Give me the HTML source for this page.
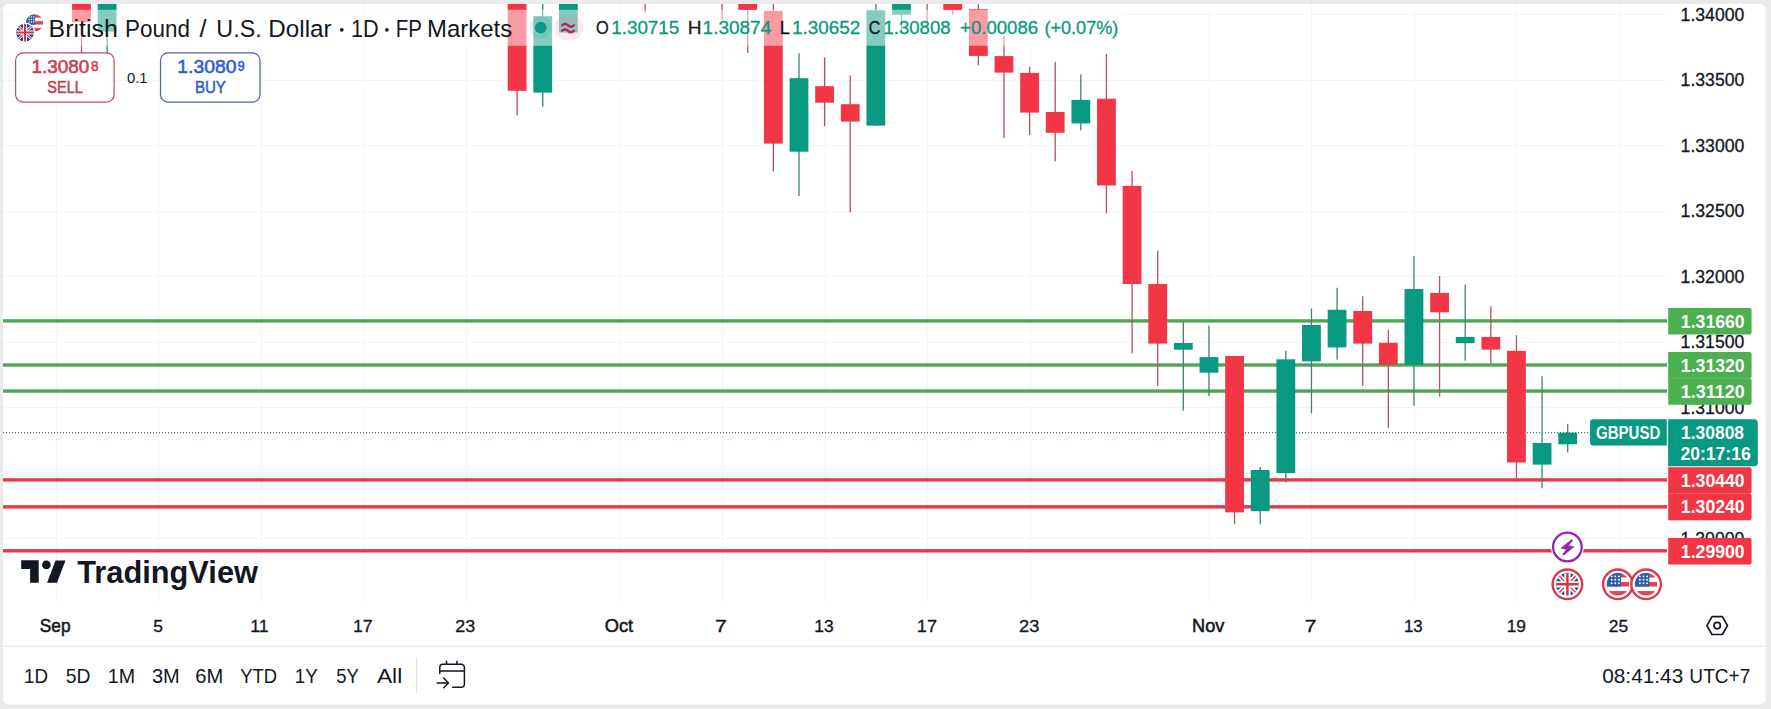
<!DOCTYPE html>
<html><head><meta charset="utf-8"><title>GBPUSD Chart</title>
<style>html,body{margin:0;padding:0;background:#eaeaea;}body{width:1771px;height:709px;overflow:hidden;font-family:"Liberation Sans",sans-serif;}svg{display:block;}</style>
</head><body>
<svg width="1771" height="709" viewBox="0 0 1771 709" font-family="Liberation Sans, sans-serif"><rect x="0" y="0" width="1771" height="709" fill="#eaeaea"/>
<rect x="3" y="4" width="1762.5" height="700.5" rx="5" fill="#ffffff"/>
<defs><clipPath id="pane"><rect x="3" y="4" width="1664" height="598"/></clipPath></defs>
<g clip-path="url(#pane)">
<line x1="56.5" y1="4" x2="56.5" y2="602" stroke="#f4f5f7" stroke-width="1"/>
<line x1="158.5" y1="4" x2="158.5" y2="602" stroke="#f4f5f7" stroke-width="1"/>
<line x1="261.5" y1="4" x2="261.5" y2="602" stroke="#f4f5f7" stroke-width="1"/>
<line x1="363.5" y1="4" x2="363.5" y2="602" stroke="#f4f5f7" stroke-width="1"/>
<line x1="466.5" y1="4" x2="466.5" y2="602" stroke="#f4f5f7" stroke-width="1"/>
<line x1="620.5" y1="4" x2="620.5" y2="602" stroke="#f4f5f7" stroke-width="1"/>
<line x1="722.5" y1="4" x2="722.5" y2="602" stroke="#f4f5f7" stroke-width="1"/>
<line x1="825.5" y1="4" x2="825.5" y2="602" stroke="#f4f5f7" stroke-width="1"/>
<line x1="927.5" y1="4" x2="927.5" y2="602" stroke="#f4f5f7" stroke-width="1"/>
<line x1="1030.5" y1="4" x2="1030.5" y2="602" stroke="#f4f5f7" stroke-width="1"/>
<line x1="1209.5" y1="4" x2="1209.5" y2="602" stroke="#f4f5f7" stroke-width="1"/>
<line x1="1311.5" y1="4" x2="1311.5" y2="602" stroke="#f4f5f7" stroke-width="1"/>
<line x1="1414.5" y1="4" x2="1414.5" y2="602" stroke="#f4f5f7" stroke-width="1"/>
<line x1="1516.5" y1="4" x2="1516.5" y2="602" stroke="#f4f5f7" stroke-width="1"/>
<line x1="1619.5" y1="4" x2="1619.5" y2="602" stroke="#f4f5f7" stroke-width="1"/>
<line x1="3" y1="14.5" x2="1667" y2="14.5" stroke="#f4f5f7" stroke-width="1"/>
<line x1="3" y1="80.5" x2="1667" y2="80.5" stroke="#f4f5f7" stroke-width="1"/>
<line x1="3" y1="145.5" x2="1667" y2="145.5" stroke="#f4f5f7" stroke-width="1"/>
<line x1="3" y1="211.5" x2="1667" y2="211.5" stroke="#f4f5f7" stroke-width="1"/>
<line x1="3" y1="276.5" x2="1667" y2="276.5" stroke="#f4f5f7" stroke-width="1"/>
<line x1="3" y1="342.5" x2="1667" y2="342.5" stroke="#f4f5f7" stroke-width="1"/>
<line x1="3" y1="407.5" x2="1667" y2="407.5" stroke="#f4f5f7" stroke-width="1"/>
<line x1="3" y1="473.5" x2="1667" y2="473.5" stroke="#f4f5f7" stroke-width="1"/>
<line x1="3" y1="538.5" x2="1667" y2="538.5" stroke="#f4f5f7" stroke-width="1"/>
<rect x="3" y="319.20" width="1664" height="3.4" fill="#52A556"/>
<rect x="3" y="363.30" width="1664" height="3.4" fill="#52A556"/>
<rect x="3" y="389.35" width="1664" height="3.4" fill="#52A556"/>
<rect x="3" y="478.20" width="1664" height="3.4" fill="#E63A4A"/>
<rect x="3" y="505.15" width="1664" height="3.4" fill="#E63A4A"/>
<rect x="3" y="549.10" width="1664" height="3.4" fill="#E63A4A"/>
<line x1="3" y1="432.55" x2="1667" y2="432.55" stroke="#3E7A6E" stroke-width="1.3" stroke-dasharray="1.1 1.9"/>
<rect x="80.85" y="-5.00" width="1.3" height="65.00" fill="#B8505D"/>
<rect x="72.10" y="-5.00" width="18.8" height="27.20" fill="#F23645"/>
<rect x="106.48" y="-5.00" width="1.3" height="65.00" fill="#3A8577"/>
<rect x="97.73" y="-5.00" width="18.8" height="36.60" fill="#089981"/>
<rect x="516.46" y="-5.00" width="1.3" height="120.50" fill="#B8505D"/>
<rect x="507.71" y="-5.00" width="18.8" height="95.80" fill="#F23645"/>
<rect x="542.09" y="-5.00" width="1.3" height="111.70" fill="#3A8577"/>
<rect x="533.34" y="16.20" width="18.8" height="76.40" fill="#089981"/>
<rect x="567.71" y="-5.00" width="1.3" height="39.00" fill="#3A8577"/>
<rect x="558.96" y="-5.00" width="18.8" height="37.60" fill="#089981"/>
<rect x="644.58" y="-5.00" width="1.3" height="18.00" fill="#B8505D"/>
<rect x="721.45" y="-5.00" width="1.3" height="25.00" fill="#B8505D"/>
<rect x="747.08" y="-5.00" width="1.3" height="58.00" fill="#B8505D"/>
<rect x="738.33" y="-5.00" width="18.8" height="15.00" fill="#F23645"/>
<rect x="772.70" y="-5.00" width="1.3" height="176.50" fill="#B8505D"/>
<rect x="763.95" y="10.90" width="18.8" height="132.70" fill="#F23645"/>
<rect x="798.33" y="53.30" width="1.3" height="142.70" fill="#3A8577"/>
<rect x="789.58" y="78.20" width="18.8" height="73.50" fill="#089981"/>
<rect x="823.95" y="57.40" width="1.3" height="68.80" fill="#B8505D"/>
<rect x="815.20" y="86.20" width="18.8" height="16.50" fill="#F23645"/>
<rect x="849.57" y="75.40" width="1.3" height="137.10" fill="#B8505D"/>
<rect x="840.82" y="104.20" width="18.8" height="17.40" fill="#F23645"/>
<rect x="875.20" y="-5.00" width="1.3" height="131.00" fill="#3A8577"/>
<rect x="866.45" y="10.20" width="18.8" height="115.40" fill="#089981"/>
<rect x="900.82" y="-5.00" width="1.3" height="37.20" fill="#3A8577"/>
<rect x="892.07" y="-5.00" width="18.8" height="19.70" fill="#089981"/>
<rect x="926.45" y="-5.00" width="1.3" height="27.00" fill="#B8505D"/>
<rect x="952.07" y="-5.00" width="1.3" height="19.80" fill="#B8505D"/>
<rect x="943.32" y="-5.00" width="18.8" height="15.20" fill="#F23645"/>
<rect x="977.69" y="-5.00" width="1.3" height="70.10" fill="#B8505D"/>
<rect x="968.94" y="9.20" width="18.8" height="46.70" fill="#F23645"/>
<rect x="1003.32" y="35.70" width="1.3" height="102.30" fill="#B8505D"/>
<rect x="994.57" y="56.10" width="18.8" height="16.50" fill="#F23645"/>
<rect x="1028.94" y="66.70" width="1.3" height="68.30" fill="#B8505D"/>
<rect x="1020.19" y="72.90" width="18.8" height="39.70" fill="#F23645"/>
<rect x="1054.57" y="62.00" width="1.3" height="99.30" fill="#B8505D"/>
<rect x="1045.82" y="112.00" width="18.8" height="20.80" fill="#F23645"/>
<rect x="1080.19" y="74.40" width="1.3" height="55.90" fill="#3A8577"/>
<rect x="1071.44" y="99.90" width="18.8" height="23.50" fill="#089981"/>
<rect x="1105.81" y="53.90" width="1.3" height="159.50" fill="#B8505D"/>
<rect x="1097.06" y="98.70" width="18.8" height="86.80" fill="#F23645"/>
<rect x="1131.44" y="170.90" width="1.3" height="182.50" fill="#B8505D"/>
<rect x="1122.69" y="185.90" width="18.8" height="98.10" fill="#F23645"/>
<rect x="1157.06" y="250.60" width="1.3" height="135.40" fill="#B8505D"/>
<rect x="1148.31" y="284.00" width="18.8" height="59.60" fill="#F23645"/>
<rect x="1182.69" y="322.00" width="1.3" height="88.50" fill="#3A8577"/>
<rect x="1173.94" y="343.00" width="18.8" height="6.70" fill="#089981"/>
<rect x="1208.31" y="325.60" width="1.3" height="70.40" fill="#3A8577"/>
<rect x="1199.56" y="357.10" width="18.8" height="15.60" fill="#089981"/>
<rect x="1233.93" y="356.00" width="1.3" height="168.30" fill="#B8505D"/>
<rect x="1225.18" y="356.00" width="18.8" height="156.40" fill="#F23645"/>
<rect x="1259.56" y="467.00" width="1.3" height="57.30" fill="#3A8577"/>
<rect x="1250.81" y="470.00" width="18.8" height="41.20" fill="#089981"/>
<rect x="1285.18" y="350.80" width="1.3" height="131.60" fill="#3A8577"/>
<rect x="1276.43" y="359.30" width="18.8" height="113.70" fill="#089981"/>
<rect x="1310.81" y="308.50" width="1.3" height="104.90" fill="#3A8577"/>
<rect x="1302.06" y="325.00" width="18.8" height="36.40" fill="#089981"/>
<rect x="1336.43" y="287.80" width="1.3" height="71.90" fill="#3A8577"/>
<rect x="1327.68" y="309.80" width="18.8" height="37.60" fill="#089981"/>
<rect x="1362.05" y="296.30" width="1.3" height="89.70" fill="#B8505D"/>
<rect x="1353.30" y="311.00" width="18.8" height="32.60" fill="#F23645"/>
<rect x="1387.68" y="329.70" width="1.3" height="98.10" fill="#B8505D"/>
<rect x="1378.93" y="342.80" width="18.8" height="22.00" fill="#F23645"/>
<rect x="1413.30" y="256.00" width="1.3" height="149.80" fill="#3A8577"/>
<rect x="1404.55" y="289.00" width="18.8" height="75.80" fill="#089981"/>
<rect x="1438.93" y="276.00" width="1.3" height="120.50" fill="#B8505D"/>
<rect x="1430.18" y="292.90" width="18.8" height="19.40" fill="#F23645"/>
<rect x="1464.55" y="284.40" width="1.3" height="76.20" fill="#3A8577"/>
<rect x="1455.80" y="336.90" width="18.8" height="6.30" fill="#089981"/>
<rect x="1490.17" y="306.40" width="1.3" height="57.10" fill="#B8505D"/>
<rect x="1481.42" y="336.90" width="18.8" height="12.70" fill="#F23645"/>
<rect x="1515.80" y="335.20" width="1.3" height="143.80" fill="#B8505D"/>
<rect x="1507.05" y="350.80" width="18.8" height="111.70" fill="#F23645"/>
<rect x="1541.42" y="376.20" width="1.3" height="112.10" fill="#3A8577"/>
<rect x="1532.67" y="443.00" width="18.8" height="21.60" fill="#089981"/>
<rect x="1567.05" y="424.00" width="1.3" height="28.40" fill="#3A8577"/>
<rect x="1558.30" y="432.70" width="18.8" height="11.60" fill="#089981"/>
</g>
<rect x="10" y="9.8" width="1112" height="36" fill="#ffffff" fill-opacity="0.5"/>
<defs><clipPath id="usL"><circle cx="34.6" cy="22.9" r="8.6"/></clipPath><clipPath id="ukL"><circle cx="25" cy="32.6" r="8.9"/></clipPath></defs>
<g clip-path="url(#usL)"><rect x="26.0" y="14.299999999999999" width="17.2" height="17.2" fill="#ffffff"/><rect x="26.0" y="14.30" width="17.2" height="3.44" fill="#E5414F"/><rect x="26.0" y="21.18" width="17.2" height="3.44" fill="#E5414F"/><rect x="26.0" y="28.06" width="17.2" height="3.44" fill="#E5414F"/><rect x="26.0" y="14.299999999999999" width="9.03" height="10.32" fill="#2B5DAE"/><circle cx="29.16" cy="16.88" r="0.73" fill="#ffffff"/><circle cx="29.16" cy="19.46" r="0.73" fill="#ffffff"/><circle cx="29.16" cy="22.04" r="0.73" fill="#ffffff"/><circle cx="31.42" cy="16.88" r="0.73" fill="#ffffff"/><circle cx="31.42" cy="19.46" r="0.73" fill="#ffffff"/><circle cx="31.42" cy="22.04" r="0.73" fill="#ffffff"/><circle cx="33.68" cy="16.88" r="0.73" fill="#ffffff"/><circle cx="33.68" cy="19.46" r="0.73" fill="#ffffff"/><circle cx="33.68" cy="22.04" r="0.73" fill="#ffffff"/></g>
<circle cx="25" cy="32.6" r="10.2" fill="#ffffff"/>
<g clip-path="url(#ukL)"><rect x="16.1" y="23.700000000000003" width="17.8" height="17.8" fill="#22408F"/><path d="M14.32,21.92 L35.68,43.28 M35.68,21.92 L14.32,43.28" stroke="#ffffff" stroke-width="2.67"/><path d="M14.32,21.92 L35.68,43.28 M35.68,21.92 L14.32,43.28" stroke="#D8343F" stroke-width="1.07"/><path d="M16.1,32.6 H33.9 M25,23.700000000000003 V41.5" stroke="#ffffff" stroke-width="4.00"/><path d="M16.1,32.6 H33.9 M25,23.700000000000003 V41.5" stroke="#D8343F" stroke-width="1.96"/></g>
<text transform="translate(48.60,36.50) scale(1.0824,1)" font-size="23.04" font-weight="normal" fill="#131722" >British</text>
<text transform="translate(125.00,36.50) scale(0.9754,1)" font-size="23.04" font-weight="normal" fill="#131722" >Pound</text>
<text transform="translate(199.50,36.50) scale(1.1004,1)" font-size="23.04" font-weight="normal" fill="#131722" >/</text>
<text transform="translate(216.35,36.50) scale(1.0122,1)" font-size="23.04" font-weight="normal" fill="#131722" >U.S.</text>
<text transform="translate(268.36,36.50) scale(1.0508,1)" font-size="23.04" font-weight="normal" fill="#131722" >Dollar</text>
<text transform="translate(350.88,36.50) scale(0.9393,1)" font-size="23.04" font-weight="normal" fill="#131722" >1D</text>
<text transform="translate(395.66,36.50) scale(0.8907,1)" font-size="23.04" font-weight="normal" fill="#131722" >FP</text>
<text transform="translate(426.98,36.50) scale(1.0408,1)" font-size="23.04" font-weight="normal" fill="#131722" >Markets</text>
<circle cx="341.8" cy="29.8" r="1.85" fill="#131722"/>
<circle cx="386.9" cy="29.8" r="1.85" fill="#131722"/>
<circle cx="540.7" cy="27.6" r="11" fill="#089981" fill-opacity="0.10"/>
<circle cx="540.7" cy="27.6" r="5.8" fill="#089981"/>
<rect x="554.4" y="15.2" width="28.6" height="25.4" rx="12.7" fill="#F06292" fill-opacity="0.15"/>
<path d="M562,25.3 q3,-3 6,0 t6,0 M562,30.8 q3,-3 6,0 t6,0" stroke="#C2185B" stroke-width="2.2" fill="none" stroke-linecap="round"/>
<text transform="translate(596.06,34.40) scale(0.8872,1)" font-size="18.43" font-weight="normal" fill="#131722" stroke="#131722" stroke-width="0.3">O</text>
<text transform="translate(611.19,34.40) scale(1.0233,1)" font-size="18.43" font-weight="normal" fill="#089981" stroke="#089981" stroke-width="0.3">1.30715</text>
<text transform="translate(687.87,34.40) scale(1.0220,1)" font-size="18.70" font-weight="normal" fill="#131722" stroke="#131722" stroke-width="0.3">H</text>
<text transform="translate(702.57,34.40) scale(1.0312,1)" font-size="18.43" font-weight="normal" fill="#089981" stroke="#089981" stroke-width="0.3">1.30874</text>
<text transform="translate(779.74,34.40) scale(0.9736,1)" font-size="18.70" font-weight="normal" fill="#131722" stroke="#131722" stroke-width="0.3">L</text>
<text transform="translate(791.98,34.40) scale(1.0262,1)" font-size="18.43" font-weight="normal" fill="#089981" stroke="#089981" stroke-width="0.3">1.30652</text>
<text transform="translate(868.80,34.40) scale(0.8716,1)" font-size="18.43" font-weight="normal" fill="#131722" stroke="#131722" stroke-width="0.3">C</text>
<text transform="translate(883.40,34.40) scale(1.0093,1)" font-size="18.43" font-weight="normal" fill="#089981" stroke="#089981" stroke-width="0.3">1.30808</text>
<text transform="translate(960.07,34.40) scale(1.0087,1)" font-size="18.43" font-weight="normal" fill="#089981" stroke="#089981" stroke-width="0.3">+0.00086</text>
<text transform="translate(1044.42,34.40) scale(0.9813,1)" font-size="18.43" font-weight="normal" fill="#089981" stroke="#089981" stroke-width="0.3">(+0.07%)</text>
<rect x="15.6" y="52.9" width="98.5" height="49.2" rx="7.5" fill="#ffffff" stroke="#B4505D" stroke-width="1.2"/>
<rect x="160.5" y="52.9" width="99.5" height="49.2" rx="7.5" fill="#ffffff" stroke="#4A62A8" stroke-width="1.2"/>
<text transform="translate(31.48,72.80) scale(1.0593,1)" font-size="17.86" font-weight="normal" fill="#CE3C4E" stroke="#CE3C4E" stroke-width="0.55" paint-order="stroke">1.3080</text>
<text transform="translate(91.10,70.50) scale(0.9383,1)" font-size="14.29" font-weight="normal" fill="#CE3C4E" stroke="#CE3C4E" stroke-width="0.55" paint-order="stroke">8</text>
<text transform="translate(47.35,92.60) scale(0.8684,1)" font-size="16.67" font-weight="normal" fill="#CE3C4E" stroke="#CE3C4E" stroke-width="0.55" paint-order="stroke">SELL</text>
<text transform="translate(126.91,82.90) scale(0.9725,1)" font-size="15.29" font-weight="normal" fill="#131722" >0.1</text>
<text transform="translate(177.35,72.80) scale(1.0820,1)" font-size="17.86" font-weight="normal" fill="#2F5FD0" stroke="#2F5FD0" stroke-width="0.55" paint-order="stroke">1.3080</text>
<text transform="translate(237.64,70.50) scale(0.8731,1)" font-size="14.29" font-weight="normal" fill="#2F5FD0" stroke="#2F5FD0" stroke-width="0.55" paint-order="stroke">9</text>
<text transform="translate(194.90,92.60) scale(0.9023,1)" font-size="16.67" font-weight="normal" fill="#2F5FD0" stroke="#2F5FD0" stroke-width="0.55" paint-order="stroke">BUY</text>
<path d="M21.2,560.3 H38.7 V582.7 H30.1 V569.1 H21.2 Z" fill="#131722"/>
<circle cx="46.4" cy="564.9" r="4.3" fill="#131722"/>
<path d="M55.5,560.4 H65.5 L57.0,582.7 H47.1 Z" fill="#131722"/>
<text transform="translate(77.19,582.60) scale(0.9663,1)" font-size="31.88" font-weight="bold" fill="#131722" >TradingView</text>
<circle cx="1567.4" cy="547" r="16.5" fill="#ffffff"/>
<circle cx="1567.4" cy="547" r="14.3" fill="#ffffff" stroke="#9427AD" stroke-width="2.3"/>
<path d="M1571.72,539.38 L1572.70,540.61 L1568.26,545.55 L1573.94,546.78 L1563.82,555.17 L1562.59,554.19 L1566.53,549.50 L1560.86,548.26 Z" fill="#9427AD" stroke="#9427AD" stroke-width="0.6" stroke-linejoin="round"/>
<defs><clipPath id="ukE"><circle cx="1567.4" cy="584.3" r="11.3"/></clipPath><clipPath id="usE1"><circle cx="1617.9" cy="584.3" r="11.3"/></clipPath><clipPath id="usE2"><circle cx="1646.1" cy="584.3" r="11.3"/></clipPath></defs>
<circle cx="1567.4" cy="584.3" r="14.8" fill="#ffffff" stroke="#D83A4B" stroke-width="2.4"/>
<g clip-path="url(#ukE)"><rect x="1556.1000000000001" y="573.0" width="22.6" height="22.6" fill="#22408F"/><path d="M1553.8400000000001,570.74 L1580.96,597.8599999999999 M1580.96,570.74 L1553.8400000000001,597.8599999999999" stroke="#ffffff" stroke-width="4.75"/><path d="M1553.8400000000001,570.74 L1580.96,597.8599999999999 M1580.96,570.74 L1553.8400000000001,597.8599999999999" stroke="#D8343F" stroke-width="1.36"/><path d="M1556.1000000000001,584.3 H1578.7 M1567.4,573.0 V595.5999999999999" stroke="#ffffff" stroke-width="6.33"/><path d="M1556.1000000000001,584.3 H1578.7 M1567.4,573.0 V595.5999999999999" stroke="#D8343F" stroke-width="2.49"/></g>
<circle cx="1617.9" cy="584.3" r="14.8" fill="#ffffff" stroke="#D83A4B" stroke-width="2.4"/>
<g clip-path="url(#usE1)"><rect x="1606.6000000000001" y="573.0" width="22.6" height="22.6" fill="#ffffff"/><rect x="1606.6000000000001" y="573.00" width="22.6" height="4.52" fill="#E5414F"/><rect x="1606.6000000000001" y="582.04" width="22.6" height="4.52" fill="#E5414F"/><rect x="1606.6000000000001" y="591.08" width="22.6" height="4.52" fill="#E5414F"/><rect x="1606.6000000000001" y="573.0" width="14.46" height="13.56" fill="#2B5DAE"/><circle cx="1611.66" cy="576.39" r="0.96" fill="#ffffff"/><circle cx="1611.66" cy="579.78" r="0.96" fill="#ffffff"/><circle cx="1611.66" cy="583.17" r="0.96" fill="#ffffff"/><circle cx="1615.28" cy="576.39" r="0.96" fill="#ffffff"/><circle cx="1615.28" cy="579.78" r="0.96" fill="#ffffff"/><circle cx="1615.28" cy="583.17" r="0.96" fill="#ffffff"/><circle cx="1618.89" cy="576.39" r="0.96" fill="#ffffff"/><circle cx="1618.89" cy="579.78" r="0.96" fill="#ffffff"/><circle cx="1618.89" cy="583.17" r="0.96" fill="#ffffff"/></g>
<circle cx="1646.1" cy="584.3" r="14.8" fill="#ffffff" stroke="#D83A4B" stroke-width="2.4"/>
<g clip-path="url(#usE2)"><rect x="1634.8" y="573.0" width="22.6" height="22.6" fill="#ffffff"/><rect x="1634.8" y="573.00" width="22.6" height="4.52" fill="#E5414F"/><rect x="1634.8" y="582.04" width="22.6" height="4.52" fill="#E5414F"/><rect x="1634.8" y="591.08" width="22.6" height="4.52" fill="#E5414F"/><rect x="1634.8" y="573.0" width="14.46" height="13.56" fill="#2B5DAE"/><circle cx="1639.86" cy="576.39" r="0.96" fill="#ffffff"/><circle cx="1639.86" cy="579.78" r="0.96" fill="#ffffff"/><circle cx="1639.86" cy="583.17" r="0.96" fill="#ffffff"/><circle cx="1643.48" cy="576.39" r="0.96" fill="#ffffff"/><circle cx="1643.48" cy="579.78" r="0.96" fill="#ffffff"/><circle cx="1643.48" cy="583.17" r="0.96" fill="#ffffff"/><circle cx="1647.09" cy="576.39" r="0.96" fill="#ffffff"/><circle cx="1647.09" cy="579.78" r="0.96" fill="#ffffff"/><circle cx="1647.09" cy="583.17" r="0.96" fill="#ffffff"/></g>
<text transform="translate(1680.58,20.65) scale(0.9874,1)" font-size="17.86" font-weight="normal" fill="#131722" stroke="#131722" stroke-width="0.3">1.34000</text>
<text transform="translate(1680.58,86.15) scale(0.9874,1)" font-size="17.86" font-weight="normal" fill="#131722" stroke="#131722" stroke-width="0.3">1.33500</text>
<text transform="translate(1680.58,151.65) scale(0.9874,1)" font-size="17.86" font-weight="normal" fill="#131722" stroke="#131722" stroke-width="0.3">1.33000</text>
<text transform="translate(1680.58,217.15) scale(0.9874,1)" font-size="17.86" font-weight="normal" fill="#131722" stroke="#131722" stroke-width="0.3">1.32500</text>
<text transform="translate(1680.58,282.65) scale(0.9874,1)" font-size="17.86" font-weight="normal" fill="#131722" stroke="#131722" stroke-width="0.3">1.32000</text>
<text transform="translate(1680.58,348.15) scale(0.9874,1)" font-size="17.86" font-weight="normal" fill="#131722" stroke="#131722" stroke-width="0.3">1.31500</text>
<text transform="translate(1680.58,413.65) scale(0.9874,1)" font-size="17.86" font-weight="normal" fill="#131722" stroke="#131722" stroke-width="0.3">1.31000</text>
<text transform="translate(1680.58,544.65) scale(0.9874,1)" font-size="17.86" font-weight="normal" fill="#131722" stroke="#131722" stroke-width="0.3">1.30000</text>
<path d="M1668.2,308.10 H1749.6 a2,2 0 0 1 2,2 V332.60 a2,2 0 0 1 -2,2 H1668.2 Z" fill="#4CAF50"/>
<text transform="translate(1680.84,327.70) scale(0.9738,1)" font-size="18.14" font-weight="bold" fill="#ffffff" >1.31660</text>
<path d="M1668.2,352.05 H1749.6 a2,2 0 0 1 2,2 V376.55 a2,2 0 0 1 -2,2 H1668.2 Z" fill="#4CAF50"/>
<text transform="translate(1680.84,371.65) scale(0.9738,1)" font-size="18.14" font-weight="bold" fill="#ffffff" >1.31320</text>
<path d="M1668.2,378.25 H1749.6 a2,2 0 0 1 2,2 V402.75 a2,2 0 0 1 -2,2 H1668.2 Z" fill="#4CAF50"/>
<text transform="translate(1680.82,397.85) scale(0.9893,1)" font-size="18.14" font-weight="bold" fill="#ffffff" >1.31120</text>
<path d="M1668.2,467.35 H1749.6 a2,2 0 0 1 2,2 V491.85 a2,2 0 0 1 -2,2 H1668.2 Z" fill="#F23645"/>
<text transform="translate(1680.84,486.95) scale(0.9738,1)" font-size="18.14" font-weight="bold" fill="#ffffff" >1.30440</text>
<path d="M1668.2,493.75 H1749.6 a2,2 0 0 1 2,2 V518.25 a2,2 0 0 1 -2,2 H1668.2 Z" fill="#F23645"/>
<text transform="translate(1680.84,513.35) scale(0.9738,1)" font-size="18.14" font-weight="bold" fill="#ffffff" >1.30240</text>
<path d="M1668.2,538.05 H1749.6 a2,2 0 0 1 2,2 V562.55 a2,2 0 0 1 -2,2 H1668.2 Z" fill="#F23645"/>
<text transform="translate(1680.84,557.65) scale(0.9738,1)" font-size="18.14" font-weight="bold" fill="#ffffff" >1.29900</text>
<path d="M1668.1,419.3 H1754 a3.8,3.8 0 0 1 3.8,3.8 V462.5 a3.8,3.8 0 0 1 -3.8,3.8 H1668.1 Z" fill="#089981"/>
<text transform="translate(1681.05,438.90) scale(0.9616,1)" font-size="18.14" font-weight="bold" fill="#ffffff" >1.30808</text>
<text transform="translate(1680.38,459.70) scale(1.0103,1)" font-size="17.43" font-weight="bold" fill="#ffffff" >20:17:16</text>
<path d="M1666.8,419.3 V445.5 H1593.1 a3,3 0 0 1 -3,-3 V422.3 a3,3 0 0 1 3,-3 Z" fill="#089981"/>
<text transform="translate(1596.10,438.90) scale(0.8290,1)" font-size="18.12" font-weight="bold" fill="#ffffff" >GBPUSD</text>
<text transform="translate(39.82,631.90) scale(0.9360,1)" font-size="18.41" font-weight="normal" fill="#131722" stroke="#131722" stroke-width="0.55">Sep</text>
<text transform="translate(153.30,631.70) scale(1.0193,1)" font-size="17.14" font-weight="normal" fill="#131722" stroke="#131722" stroke-width="0.3">5</text>
<text transform="translate(250.26,631.70) scale(1.0392,1)" font-size="17.14" font-weight="normal" fill="#131722" stroke="#131722" stroke-width="0.3">11</text>
<text transform="translate(352.97,631.70) scale(1.0364,1)" font-size="17.14" font-weight="normal" fill="#131722" stroke="#131722" stroke-width="0.3">17</text>
<text transform="translate(455.30,631.70) scale(1.0466,1)" font-size="17.14" font-weight="normal" fill="#131722" stroke="#131722" stroke-width="0.3">23</text>
<text transform="translate(604.78,631.90) scale(0.9891,1)" font-size="18.41" font-weight="normal" fill="#131722" stroke="#131722" stroke-width="0.55">Oct</text>
<text transform="translate(714.93,631.70) scale(1.2436,1)" font-size="17.14" font-weight="normal" fill="#131722" stroke="#131722" stroke-width="0.3">7</text>
<text transform="translate(814.30,631.70) scale(1.0142,1)" font-size="17.14" font-weight="normal" fill="#131722" stroke="#131722" stroke-width="0.3">13</text>
<text transform="translate(916.84,631.70) scale(1.0601,1)" font-size="17.14" font-weight="normal" fill="#131722" stroke="#131722" stroke-width="0.3">17</text>
<text transform="translate(1018.99,631.70) scale(1.0637,1)" font-size="17.14" font-weight="normal" fill="#131722" stroke="#131722" stroke-width="0.3">23</text>
<text transform="translate(1192.05,631.90) scale(0.9872,1)" font-size="18.41" font-weight="normal" fill="#131722" stroke="#131722" stroke-width="0.55">Nov</text>
<text transform="translate(1304.65,631.70) scale(1.2308,1)" font-size="17.14" font-weight="normal" fill="#131722" stroke="#131722" stroke-width="0.3">7</text>
<text transform="translate(1403.93,631.70) scale(0.9849,1)" font-size="17.14" font-weight="normal" fill="#131722" stroke="#131722" stroke-width="0.3">13</text>
<text transform="translate(1506.70,631.70) scale(1.0135,1)" font-size="17.14" font-weight="normal" fill="#131722" stroke="#131722" stroke-width="0.3">19</text>
<text transform="translate(1608.83,631.70) scale(1.0123,1)" font-size="17.14" font-weight="normal" fill="#131722" stroke="#131722" stroke-width="0.3">25</text>
<path d="M1706.9,625.6 L1712.0,616.7 H1722.4 L1727.5,625.6 L1722.4,634.5 H1712.0 Z" fill="none" stroke="#131722" stroke-width="1.7" stroke-linejoin="round"/>
<circle cx="1717.2" cy="625.6" r="3.2" fill="none" stroke="#131722" stroke-width="1.7"/>
<rect x="3" y="645.8" width="1762.5" height="1" fill="#e0e3eb"/>
<text transform="translate(24.09,682.80) scale(0.8940,1)" font-size="21.01" font-weight="normal" fill="#131722" >1D</text>
<text transform="translate(65.83,682.80) scale(0.9197,1)" font-size="21.01" font-weight="normal" fill="#131722" >5D</text>
<text transform="translate(107.82,682.80) scale(0.9362,1)" font-size="21.01" font-weight="normal" fill="#131722" >1M</text>
<text transform="translate(152.00,682.80) scale(0.9517,1)" font-size="21.01" font-weight="normal" fill="#131722" >3M</text>
<text transform="translate(195.29,682.80) scale(0.9593,1)" font-size="21.01" font-weight="normal" fill="#131722" >6M</text>
<text transform="translate(240.14,682.80) scale(0.8753,1)" font-size="21.01" font-weight="normal" fill="#131722" >YTD</text>
<text transform="translate(294.69,682.80) scale(0.8967,1)" font-size="21.01" font-weight="normal" fill="#131722" >1Y</text>
<text transform="translate(336.16,682.80) scale(0.8779,1)" font-size="21.01" font-weight="normal" fill="#131722" >5Y</text>
<text transform="translate(376.90,682.80) scale(1.0838,1)" font-size="21.01" font-weight="normal" fill="#131722" >All</text>
<rect x="416" y="657.5" width="1.2" height="36" fill="#e0e3eb"/>
<path d="M439.8,673.5 V667.3 a3,3 0 0 1 3,-3 H461.4 a3,3 0 0 1 3,3 V684.3 a3,3 0 0 1 -3,3 H452.7 M439.8,671.1 H464.4 M446.5,661.2 V664.3 M457,661.2 V664.3 M437.1,682.9 H448.3 M443.7,678 L448.5,682.9 L443.7,687.8" fill="none" stroke="#131722" stroke-width="1.5" stroke-linecap="round" stroke-linejoin="round"/>
<text transform="translate(1602.17,682.50) scale(1.0346,1)" font-size="20.14" font-weight="normal" fill="#131722" >08:41:43</text>
<text transform="translate(1689.37,682.50) scale(0.9341,1)" font-size="20.43" font-weight="normal" fill="#131722" >UTC+7</text></svg>
</body></html>
